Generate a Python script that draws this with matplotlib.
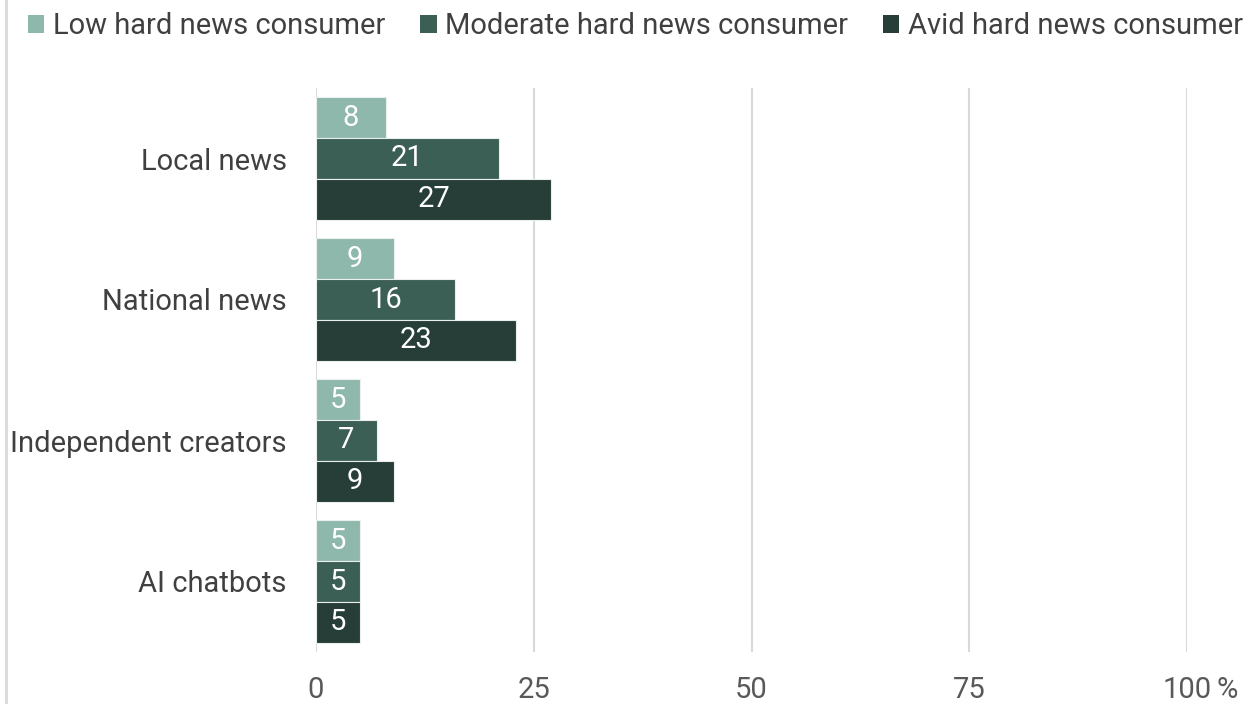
import numpy as np
import matplotlib.pyplot as plt
from matplotlib.lines import Line2D
from matplotlib.patches import Patch

plt.rcParams['font.family'] = ['Roboto', 'DejaVu Sans']

# data --------------------------------------------------------
categories = ["Local news", "National news", "Independent creators", "AI chatbots"]
series_names = ["Low hard news consumer", "Moderate hard news consumer", "Avid hard news consumer"]
low = [8, 9, 5, 5]
moderate = [21, 16, 7, 5]
avid = [27, 23, 9, 5]
ticks = [0, 25, 50, 75, 100]
tick_labels = ["0", "25", "50", "75", "100"]

colors = ["#8fb8ac", "#3b5e55", "#263e37"]

# figure ------------------------------------------------------
fig = plt.figure(figsize=(12.49, 7.04), dpi=100)
ax = fig.add_axes([316 / 1249, 52 / 704, (1187 - 316) / 1249, (652 - 88) / 704])

y = np.arange(len(categories))
h = 0.29
for k, (vals, col) in enumerate(zip([low, moderate, avid], colors)):
    pos = y + (k - 1) * h
    bars = ax.barh(pos, vals, height=h, color=col, edgecolor="#e8efec",
                   linewidth=0.8, zorder=3)
    for b, v in zip(bars, vals):
        ax.text(v / 2, b.get_y() + b.get_height() / 2, str(v), ha="center",
                va="center", color="white", fontsize=21, zorder=4)

ax.set_xlim(0, 100)
ax.set_ylim(len(categories) - 0.5, -0.5)
ax.set_yticks(y)
ax.set_yticklabels(categories, fontsize=21, color="#404040")
ax.set_xticks(ticks)
ax.set_xticklabels(tick_labels, fontsize=21, color="#595959")
ax.tick_params(axis="y", length=0, pad=21)
ax.tick_params(axis="x", length=0, pad=17)
ax.annotate("%", xy=(1, 0), xycoords="axes fraction", xytext=(21, -17),
            textcoords="offset points", ha="left", va="top", fontsize=21,
            color="#595959")
ax.grid(axis="x", color="#d9d9d9", linewidth=1.5, zorder=0)
for s in ax.spines.values():
    s.set_visible(False)

# legend ------------------------------------------------------
handles = [Patch(facecolor=c, edgecolor="none") for c in colors]
fig.legend(handles, series_names, loc="upper center", bbox_to_anchor=(0.509, 1.02),
           ncol=3, frameon=False, fontsize=21, labelcolor="#404040",
           handlelength=0.55, handleheight=0.55, handletextpad=0.3,
           columnspacing=1.2)

# thin border line on the left
fig.add_artist(Line2D([6 / 1249, 6 / 1249], [0, 1], color="#d9d9d9", linewidth=2))

fig.savefig("out.png", dpi=100)
